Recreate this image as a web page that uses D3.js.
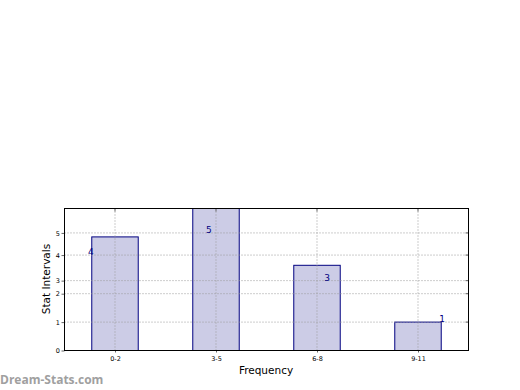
<!DOCTYPE html>
<html>
<head>
<meta charset="utf-8">
<script src="https://cdn.jsdelivr.net/npm/d3@7"></script>
<style>
  body { margin: 0; background: #fff; }
  svg { display: block; font-family: 'DejaVu Sans', sans-serif; }
</style>
</head>
<body>
<svg id="chart"></svg>
<script>
// categories and bar heights
const categories = ['0-2', '3-5', '6-8', '9-11'];
const frequencies = [4, 5, 3, 1];

// the y ticks on the original sit at odd places, so keep where they go and what they say
const yTickValues = [0, 1, 2, 2.46, 3.36, 4.14];
const yTickLabels = ['0', '1', '2', '3', '4', '5'];

// number drawn by each bar, and how far it drifts from the bar centre (in category units)
const barLabels = [4, 5, 3, 1];
const labelShift = [-0.24, -0.07, 0.1, 0.24];

const W = 520, H = 390;
const margin = { top: 208, right: 52, bottom: 40, left: 64 };
const width = W - margin.left - margin.right;
const height = H - margin.top - margin.bottom;

const svg = d3.select('#chart')
  .attr('width', W)
  .attr('height', H);

const g = svg.append('g')
  .attr('transform', `translate(${margin.left + 0.5},${margin.top + 0.5})`);

const x = d3.scaleLinear()
  .domain([-0.5, categories.length - 0.5])
  .range([0, width]);

const y = d3.scaleLinear()
  .domain([0, 5])
  .range([height, 0]);

const barWidth = 0.46;

// bars (navy at low alpha so the grid shows through)
g.selectAll('rect.bar')
  .data(frequencies)
  .enter()
  .append('rect')
  .attr('class', 'bar')
  .attr('x', (d, i) => x(i - barWidth / 2))
  .attr('y', d => y(d))
  .attr('width', x(barWidth) - x(0))
  .attr('height', d => height - y(d))
  .attr('fill', 'rgb(204,204,230)')
  .attr('stroke', '#000080')
  .attr('stroke-width', 1);

// dotted grid
g.selectAll('line.hgrid')
  .data(yTickValues.slice(1))
  .enter()
  .append('line')
  .attr('x1', 0)
  .attr('x2', width)
  .attr('y1', d => y(d))
  .attr('y2', d => y(d))
  .attr('stroke', '#9a9a9a')
  .attr('stroke-width', 1)
  .attr('stroke-dasharray', '1,2');

g.selectAll('line.vgrid')
  .data(categories)
  .enter()
  .append('line')
  .attr('x1', (d, i) => x(i))
  .attr('x2', (d, i) => x(i))
  .attr('y1', 0)
  .attr('y2', height)
  .attr('stroke', '#9a9a9a')
  .attr('stroke-width', 1)
  .attr('stroke-dasharray', '1,2');

// axes
const yAxis = g.append('g')
  .call(d3.axisLeft(y)
    .tickValues(yTickValues)
    .tickFormat((d, i) => yTickLabels[i])
    .tickSize(3)
    .tickPadding(1.5));

const xAxis = g.append('g')
  .attr('transform', `translate(0,${height})`)
  .call(d3.axisBottom(x)
    .tickValues(d3.range(categories.length))
    .tickFormat((d, i) => categories[i])
    .tickSize(2)
    .tickPadding(4));

[yAxis, xAxis].forEach(a => {
  a.select('.domain').remove();
  a.selectAll('line').attr('stroke', '#666');
  a.selectAll('text')
    .attr('fill', '#000')
    .style('font-family', 'DejaVu Sans')
    .style('font-size', '6.5px');
});

// mirrored ticks on the right and top, pointing in
g.selectAll('line.rtick')
  .data(yTickValues)
  .enter()
  .append('line')
  .attr('x1', width - 3)
  .attr('x2', width)
  .attr('y1', d => y(d))
  .attr('y2', d => y(d))
  .attr('stroke', '#666');

g.selectAll('line.ttick')
  .data(categories)
  .enter()
  .append('line')
  .attr('x1', (d, i) => x(i))
  .attr('x2', (d, i) => x(i))
  .attr('y1', 0)
  .attr('y2', 3)
  .attr('stroke', '#666');

// frame
g.append('rect')
  .attr('width', width)
  .attr('height', height)
  .attr('fill', 'none')
  .attr('stroke', '#000')
  .attr('stroke-width', 1);

// value labels
g.selectAll('text.val')
  .data(barLabels)
  .enter()
  .append('text')
  .attr('x', (d, i) => x(i + labelShift[i]))
  .attr('y', d => y(yTickValues[d]))
  .attr('text-anchor', 'middle')
  .attr('fill', '#000080')
  .style('font-size', '9px')
  .text(d => d);

// axis titles
svg.append('text')
  .attr('transform', `translate(49.5,${margin.top + height / 2}) rotate(-90)`)
  .attr('text-anchor', 'middle')
  .style('font-size', '10.5px')
  .text('Stat Intervals');

svg.append('text')
  .attr('x', margin.left + width / 2)
  .attr('y', 374)
  .attr('text-anchor', 'middle')
  .style('font-size', '10.5px')
  .text('Frequency');

// watermark
svg.append('text')
  .attr('x', 0)
  .attr('y', 384)
  .attr('fill', '#a0a0a0')
  .style('font-family', 'Open Sans')
  .style('font-weight', 'bold')
  .style('font-size', '12px')
  .text('Dream-Stats.com');
</script>
</body>
</html>
